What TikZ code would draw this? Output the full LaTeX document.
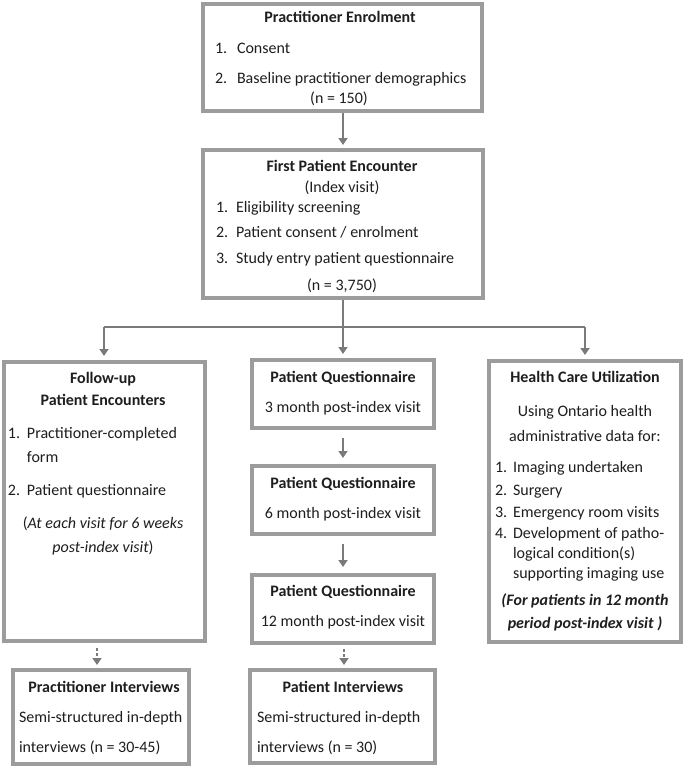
\documentclass[tikz,border=0pt]{standalone}
\usepackage{fontspec}
\setmainfont{Carlito}
\usetikzlibrary{arrows.meta}
\definecolor{boxgray}{HTML}{9C9C9C}
\definecolor{arrgray}{HTML}{7A7A7A}
\definecolor{txtcol}{HTML}{1E1E1E}
\tikzset{
  box/.style={draw=boxgray, line width=4pt, fill=white, inner sep=0pt, outer sep=0pt},
  txt/.style={inner sep=0pt, outer sep=0pt, text=txtcol, font=\fontsize{16}{19}\selectfont},
  btxt/.style={txt, font=\fontsize{16}{19}\selectfont\bfseries},
  conn/.style={draw=arrgray, line width=2pt},
  arr/.style={conn, -{Triangle[width=9pt,length=7pt]}},
  dotarr/.style={arr, dash pattern=on 2.5pt off 2.5pt}
}
\begin{document}
\begin{tikzpicture}[x=1pt,y=-1pt]
\useasboundingbox (0,0) rectangle (685,768);
% boxes
\node[box, minimum width=279pt, minimum height=107pt] (b1) at (342.5,57.5) {};
\node[box, minimum width=280pt, minimum height=148pt] (b2) at (343,224) {};
\node[box, minimum width=201pt, minimum height=279pt] (bl) at (104.5,501.5) {};
\node[box, minimum width=182pt, minimum height=68pt] (ma) at (343,394) {};
\node[box, minimum width=182pt, minimum height=68pt] (mb) at (343,500) {};
\node[box, minimum width=182pt, minimum height=68pt] (mc) at (343,609) {};
\node[box, minimum width=192pt, minimum height=281pt] (br) at (585,501.5) {};
\node[box, minimum width=176pt, minimum height=94pt] (il) at (101,717) {};
\node[box, minimum width=185pt, minimum height=93pt] (im) at (342.5,716.5) {};
% connectors
\coordinate (split) at (343,327);
\coordinate (lt) at (104,327);
\coordinate (rt) at (585,327);
\draw[arr, shorten <=2pt, shorten >=5pt] (b1.south -| split) -- (b2.north -| split);
\draw[conn, shorten <=2pt] (b2.south -| split) -- (split);
\draw[conn] (lt) -- (rt);
\draw[arr, shorten >=6pt] (lt) -- (bl.north -| lt);
\draw[arr, shorten >=6pt] (split) -- (ma.north);
\draw[arr, shorten >=6pt] (rt) -- (br.north -| rt);
\draw[arr, shorten <=10pt, shorten >=8pt] (ma.south) -- (mb.north);
\draw[arr, shorten <=10pt, shorten >=8pt] (mb.south) -- (mc.north);
\coordinate (dla) at (97,644);
\draw[dotarr, shorten <=4pt, shorten >=5pt] (dla) -- (il.north -| dla);
\coordinate (dma) at (344,645);
\draw[dotarr, shorten <=4pt, shorten >=5pt] (dma) -- (im.north -| dma);
% box 1 text
\node[btxt, anchor=base] (t11) at (340,23) {Practitioner Enrolment};
\node[txt, anchor=base west] (t12n) at (215,53) {1.};
\node[txt, anchor=base west] (t12) at (237,53) {Consent};
\node[txt, anchor=base west] (t13n) at (215,83) {2.};
\node[txt, anchor=base west] (t13) at (237,83) {Baseline practitioner demographics};
\node[txt, anchor=base] (t14) at (339,103) {(n = 150)};
% box 2 text
\node[btxt, anchor=base] (t21) at (342,171) {First Patient Encounter};
\node[txt, anchor=base] (t22) at (342,192) {(Index visit)};
\node[txt, anchor=base west] (t23n) at (216,212) {1.};
\node[txt, anchor=base west] (t23) at (236,212) {Eligibility screening};
\node[txt, anchor=base west] (t24n) at (216,237) {2.};
\node[txt, anchor=base west] (t24) at (236,237) {Patient consent / enrolment};
\node[txt, anchor=base west] (t25n) at (216,263) {3.};
\node[txt, anchor=base west] (t25) at (236,263) {Study entry patient questionnaire};
\node[txt, anchor=base] (t26) at (342,290) {(n = 3,750)};
% left box text
\node[btxt, anchor=base] (tl1) at (103,383) {Follow-up};
\node[btxt, anchor=base] (tl2) at (103,405) {Patient Encounters};
\node[txt, anchor=base west] (tl3n) at (8,438) {1.};
\node[txt, anchor=base west] (tl3) at (27,438) {Practitioner-completed};
\node[txt, anchor=base west] (tl4) at (27,462) {form};
\node[txt, anchor=base west] (tl5n) at (8,495) {2.};
\node[txt, anchor=base west] (tl5) at (27,495) {Patient questionnaire};
\node[txt, anchor=base] (tl6) at (103,528) {(\textit{At each visit for 6 weeks}};
\node[txt, anchor=base] (tl7) at (103,552) {\textit{post-index visit})};
% middle text
\node[btxt, anchor=base] (ta1) at (343,382) {Patient Questionnaire};
\node[txt, anchor=base] (ta2) at (343,412) {3 month post-index visit};
\node[btxt, anchor=base] (tb1) at (343,488) {Patient Questionnaire};
\node[txt, anchor=base] (tb2) at (343,518) {6 month post-index visit};
\node[btxt, anchor=base] (tc1) at (343,596) {Patient Questionnaire};
\node[txt, anchor=base] (tc2) at (343,626) {12 month post-index visit};
% right box text
\node[btxt, anchor=base] (tr1) at (585,382) {Health Care Utilization};
\node[txt, anchor=base] (tr2) at (585,416) {Using Ontario health};
\node[txt, anchor=base] (tr3) at (585,441) {administrative data for:};
\node[txt, anchor=base west] (tr4n) at (495,472) {1.};
\node[txt, anchor=base west] (tr4) at (513,472) {Imaging undertaken};
\node[txt, anchor=base west] (tr5n) at (495,495) {2.};
\node[txt, anchor=base west] (tr5) at (513,495) {Surgery};
\node[txt, anchor=base west] (tr6n) at (495,517) {3.};
\node[txt, anchor=base west] (tr6) at (513,517) {Emergency room visits};
\node[txt, anchor=base west] (tr7n) at (495,538) {4.};
\node[txt, anchor=base west] (tr7) at (513,538) {Development of patho-};
\node[txt, anchor=base west] (tr8) at (513,558) {logical condition(s)};
\node[txt, anchor=base west] (tr9) at (513,578) {supporting imaging use};
\node[txt, anchor=base] (tr10) at (585,605) {\textbf{\textit{(For patients in 12 month}}};
\node[txt, anchor=base] (tr11) at (585,628) {\textbf{\textit{period post-index visit )}}};
% bottom boxes text
\node[btxt, anchor=base] (til1) at (104,692) {Practitioner Interviews};
\node[txt, anchor=base west] (til2) at (19,722) {Semi-structured in-depth};
\node[txt, anchor=base west] (til3) at (19,752) {interviews (n = 30-45)};
\node[btxt, anchor=base] (tim1) at (343,692) {Patient Interviews};
\node[txt, anchor=base west] (tim2) at (257,722) {Semi-structured in-depth};
\node[txt, anchor=base west] (tim3) at (257,752) {interviews (n = 30)};
\end{tikzpicture}
\end{document}
